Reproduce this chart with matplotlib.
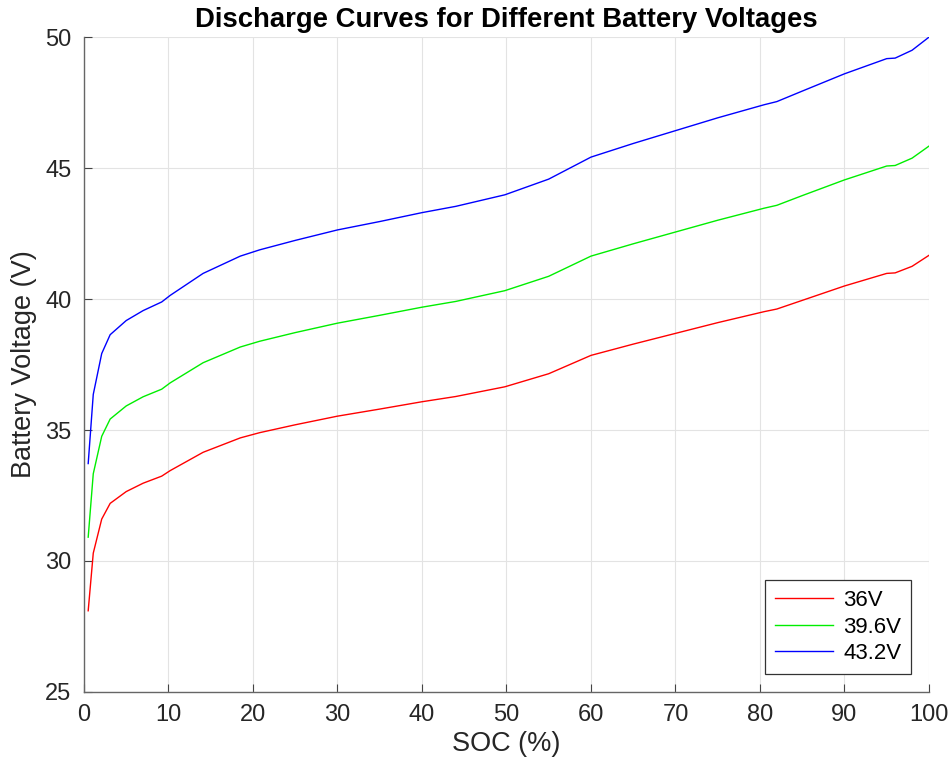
import matplotlib
matplotlib.use('Agg')
import matplotlib.pyplot as plt

plt.rcParams['font.family'] = ['Liberation Sans', 'DejaVu Sans']

# SOC (%) and voltages
soc = [0.5, 1.1, 2.1, 3.1, 5, 7, 9.2, 10.2, 14.1, 18.5, 20.8, 25, 30, 35, 40, 44,
       49.8, 55, 60, 65, 70, 75, 80.5, 82, 85, 90, 95, 96, 98, 100]
v36 = [28.1, 30.3, 31.6, 32.2, 32.65, 32.97, 33.24, 33.45, 34.15, 34.7, 34.9, 35.2,
       35.53, 35.8, 36.08, 36.28, 36.65, 37.15, 37.85, 38.28, 38.69, 39.1, 39.52,
       39.62, 39.95, 40.5, 40.98, 41.0, 41.25, 41.67]
v396 = [30.91, 33.33, 34.76, 35.42, 35.92, 36.27, 36.56, 36.8, 37.57, 38.17, 38.39,
        38.72, 39.08, 39.38, 39.69, 39.91, 40.32, 40.87, 41.64, 42.11, 42.56, 43.01,
        43.47, 43.58, 43.95, 44.55, 45.08, 45.1, 45.38, 45.84]
v432 = [33.72, 36.36, 37.92, 38.64, 39.18, 39.56, 39.89, 40.14, 40.98, 41.64, 41.88,
        42.24, 42.64, 42.96, 43.3, 43.54, 43.98, 44.58, 45.42, 45.94, 46.43, 46.92,
        47.42, 47.54, 47.94, 48.6, 49.18, 49.2, 49.5, 50.0]
labels = ['36V', '39.6V', '43.2V']

fig = plt.figure(figsize=(9.52, 7.74), dpi=100)
ax = fig.add_axes([0.0882, 0.106, 0.8876, 0.846])

ax.plot(soc, v36, color='r', lw=1.0, label=labels[0])
ax.plot(soc, v396, color='#00ee00', lw=1.0, label=labels[1])
ax.plot(soc, v432, color='b', lw=1.0, label=labels[2])

ax.set_xlim(0, 100)
ax.set_ylim(25, 50)
ax.set_xticks(range(0, 101, 10))
ax.set_yticks(range(25, 51, 5))
ax.grid(True, color='#e3e3e3', lw=0.8)
ax.set_axisbelow(True)
ax.spines['top'].set_visible(False)
ax.spines['right'].set_visible(False)
for s in ('left', 'bottom'):
    ax.spines[s].set_color('#666666')
    ax.spines[s].set_linewidth(1.0)
ax.tick_params(direction='in', length=6, width=0.8, color='#444444',
               labelsize=17, labelcolor='#262626', pad=9)

ax.set_xlabel('SOC (%)', fontsize=19.5, color='#262626', labelpad=3)
ax.set_ylabel('Battery Voltage (V)', fontsize=19.5, color='#262626', labelpad=6)
ax.set_title('Discharge Curves for Different Battery Voltages', fontsize=19.8,
             fontweight='bold', pad=7)

leg = ax.legend(loc='lower right', fontsize=16, fancybox=False, framealpha=1,
                edgecolor='#333333', handlelength=2.6, handletextpad=0.45,
                borderaxespad=0.8, labelspacing=0.25, borderpad=0.45)
leg.get_frame().set_linewidth(0.9)

plt.savefig('out.png', dpi=100)
